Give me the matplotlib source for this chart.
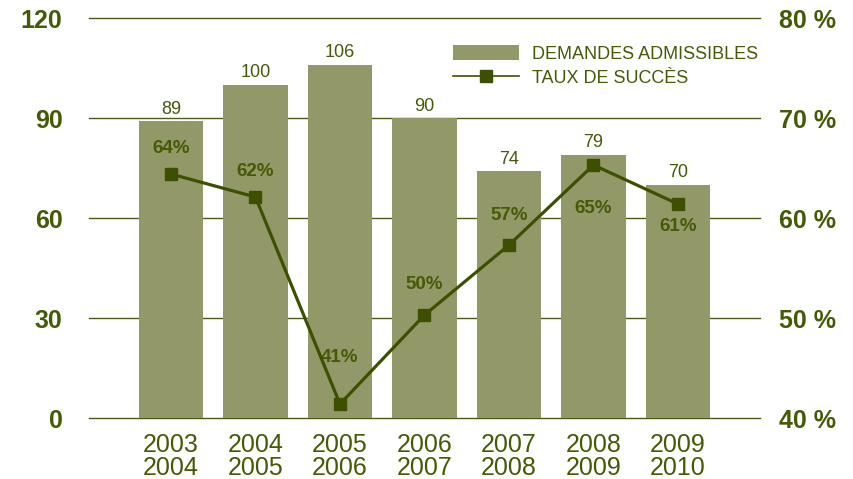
import numpy as np
import matplotlib
matplotlib.use("Agg")
import matplotlib.pyplot as plt
from matplotlib.lines import Line2D
from matplotlib.patches import Patch

# data
periods = ["2003\n2004", "2004\n2005", "2005\n2006", "2006\n2007",
           "2007\n2008", "2008\n2009", "2009\n2010"]
demandes = [89, 100, 106, 90, 74, 79, 70]
taux = [64.4, 62.1, 41.4, 50.3, 57.3, 65.3, 61.4]
taux_labels = ["64%", "62%", "41%", "50%", "57%", "65%", "61%"]
left_ticks = [0, 30, 60, 90, 120]
right_ticks = [40, 50, 60, 70, 80]

bar_color = "#939868"
dark = "#3d5000"
text_color = "#455a05"

plt.rcParams["font.family"] = ["Liberation Sans", "DejaVu Sans"]

fig = plt.figure(figsize=(8.54, 4.79), dpi=100)
ax = fig.add_axes([0.1042, 0.1273, 0.7857, 0.8351])
ax2 = ax.twinx()

x = np.arange(len(periods))

# gridlines behind the bars
for t in left_ticks:
    ax.axhline(t, color="#4c5a18", lw=1.0, zorder=0, clip_on=False)
ax.bar(x, demandes, width=0.76, color=bar_color, zorder=2)
for xi, v in zip(x, demandes):
    ax.text(xi, v + 1.0, str(v), ha="center", va="bottom",
            fontsize=13, color=text_color, zorder=3)

ax.set_xlim(-0.97, 6.97)
ax.set_ylim(0, 120)
ax.set_yticks(left_ticks)
ax.set_yticklabels([str(t) for t in left_ticks], fontsize=18,
                   fontweight="bold", color=text_color)
ax.set_xticks(x)
ax.set_xticklabels(periods, fontsize=18, color=text_color, linespacing=0.92)
ax.tick_params(axis="both", length=0)
ax.tick_params(axis="y", pad=19)
ax.tick_params(axis="x", pad=11)
for s in ax.spines.values():
    s.set_visible(False)

ax2.plot(x, taux, color=dark, lw=2.3, marker="s", markersize=8.5,
         markerfacecolor=dark, markeredgecolor=dark, zorder=5)
offsets = [2.6, 2.6, 4.7, 3.1, 3.0, -4.3, -2.2]
for xi, v, lab, off in zip(x, taux, taux_labels, offsets):
    ax2.text(xi, v + off, lab, ha="center", va="center", fontsize=13.5,
             fontweight="bold", color=text_color)
ax2.set_ylim(40, 80)
ax2.set_yticks(right_ticks)
ax2.set_yticklabels([f"{t} %" for t in right_ticks], fontsize=18,
                    fontweight="bold", color=text_color)
ax2.tick_params(axis="y", length=0, pad=14)
for s in ax2.spines.values():
    s.set_visible(False)

handles = [Patch(facecolor=bar_color, edgecolor="none"),
           Line2D([0], [0], color=dark, lw=1.2, marker="s", markersize=9)]
ax2.legend(handles, ["DEMANDES ADMISSIBLES", "TAUX DE SUCCÈS"],
           loc="upper left", bbox_to_anchor=(0.531, 0.95), frameon=False,
           fontsize=13, labelcolor=text_color, handlelength=3.7,
           handleheight=0.9, handletextpad=0.7, labelspacing=0.35,
           borderaxespad=0)

fig.savefig("out.png", dpi=100)
